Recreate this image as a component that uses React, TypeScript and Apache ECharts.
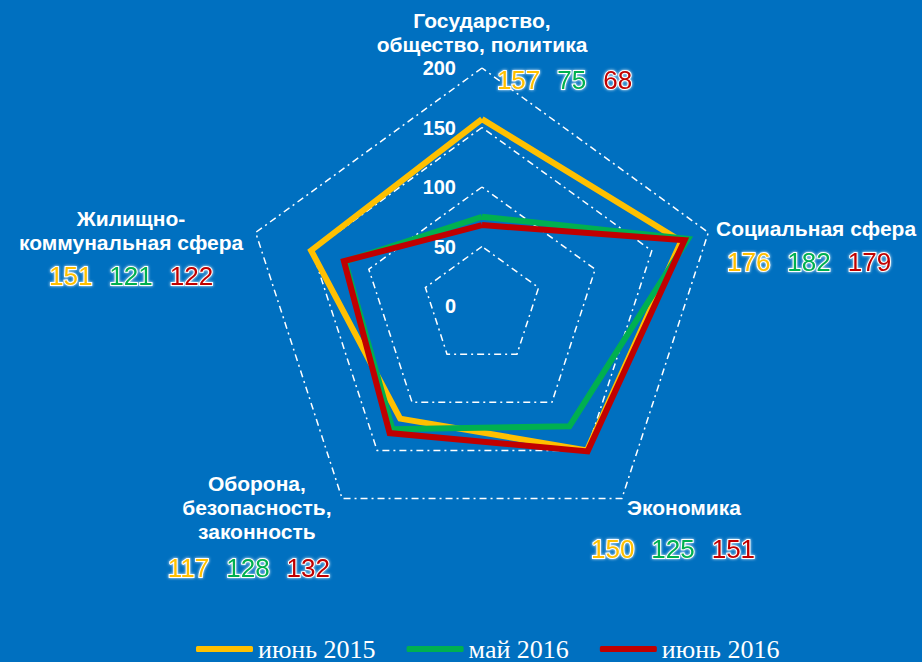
import React, { useEffect, useRef } from 'react';
import * as echarts from 'echarts';

// ---- data ----
// indicator order (counter-clockwise from top, as ECharts lays out a radar)
const indicatorNames = [
  'Государство,\nобщество, политика',
  'Жилищно-\nкоммунальная сфера',
  'Оборона,\nбезопасность,\nзаконность',
  'Экономика',
  'Социальная сфера',
];
const axisMax = 200;
const axisSplits = 4;
const seriesNames = ['июнь 2015', 'май 2016', 'июнь 2016'];
const june2015 = [157, 151, 117, 150, 176];
const may2016 = [75, 121, 128, 125, 182];
const june2016 = [68, 122, 132, 151, 179];
const seriesValues = [june2015, may2016, june2016];
const seriesColors = ['#FFC000', '#00B050', '#C00000'];

// ---- label layout per indicator (positions / styles only) ----
const nameLayouts = [
  { gap: 15, align: 'center', pad: [6, 0, 0, 0], numLH: 48, offL: 165, sep: 17, offR: 0, nameL: 0 },
  { gap: 131, align: 'center', pad: [121, 0, 0, 0], numLH: 44, offL: 0, sep: 17, offR: 0, nameL: 0 },
  { gap: 145, align: 'center', pad: [0, 0, 168, 0], numLH: 48, offL: 0, sep: 17, offR: 16, nameL: 0 },
  { gap: 87, align: 'center', pad: [0, 0, 64, 0], numLH: 58, offL: 0, sep: 17, offR: 0, nameL: 22 },
  { gap: 8, align: 'left', pad: [41, 0, 0, 0], numLH: 44, offL: 11, sep: 17, offR: 0, nameL: 0 },
];

const FONT = "'Liberation Sans', Arial, sans-serif";

const numStyle = (color: string) => ({
  color,
  fontFamily: FONT,
  fontSize: 26,
  fontWeight: 'normal',
  textBorderColor: '#ffffff',
  textBorderWidth: 2,
  textShadowColor: 'rgba(255,255,255,0.9)',
  textShadowBlur: 3,
});

export default function App() {
  const ref = useRef<HTMLDivElement>(null);

  useEffect(() => {
    if (!ref.current) return;
    const chart = echarts.init(ref.current, undefined, { renderer: 'svg' });

    const indicator = indicatorNames.map((name, i) => {
      const L = nameLayouts[i];
      const nameLines = name.split('\n').map((l) => `{n|${l}}`).join('\n');
      const text = `${nameLines}\n{y|${june2015[i]}}{g|${may2016[i]}}{r|${june2016[i]}}`;
      const ind: any = {
        name: text,
        min: 0,
        max: axisMax,
        nameGap: L.gap,
        nameMoveOverlap: false,
        nameTextStyle: {
          color: '#ffffff',
          fontFamily: FONT,
          fontSize: 21,
          fontWeight: 'bold',
          lineHeight: 24,
          align: L.align,
          verticalAlign: 'middle',
          padding: L.pad,
          rich: {
            n: {
              color: '#ffffff',
              fontFamily: FONT,
              fontSize: 21,
              fontWeight: 'bold',
              lineHeight: 24,
              padding: [0, 0, 0, L.nameL],
            },
            y: { ...numStyle(seriesColors[0]), lineHeight: L.numLH, padding: [0, 0, 0, L.offL] },
            g: { ...numStyle(seriesColors[1]), lineHeight: L.numLH, padding: [0, 0, 0, L.sep] },
            r: { ...numStyle(seriesColors[2]), lineHeight: L.numLH, padding: [0, L.offR, 0, L.sep] },
          },
        },
      };
      if (i === 0) {
        ind.axisLabel = {
          show: true,
          color: '#ffffff',
          fontFamily: FONT,
          fontSize: 20,
          fontWeight: 'bold',
          margin: 26,
        };
      }
      return ind;
    });

    const option: any = {
      animation: false,
      backgroundColor: '#0070C0',
      legend: {
        data: seriesNames,
        left: 196,
        top: 636,
        padding: 0,
        icon: 'roundRect',
        itemWidth: 57,
        itemHeight: 6,
        itemGap: 31,
        textStyle: { color: '#ffffff', fontFamily: "'Liberation Serif', 'Times New Roman', serif", fontSize: 26 },
      },
      radar: {
        center: [482, 306],
        radius: 238,
        startAngle: 90,
        shape: 'polygon',
        splitNumber: axisSplits,
        indicator,
        nameMoveOverlap: false,
        axisName: {
          color: '#ffffff',
          fontFamily: FONT,
          fontSize: 21,
          fontWeight: 'bold',
        },
        axisLine: { show: false },
        axisTick: { show: false },
        axisLabel: { show: false },
        splitArea: { show: false },
        splitLine: {
          show: true,
          lineStyle: { color: '#ffffff', width: 1.5, type: [7, 4, 2, 4] },
        },
      },
      series: [
        {
          type: 'radar',
          symbol: 'none',
          data: seriesNames.map((nm, k) => ({
            name: nm,
            value: seriesValues[k],
            itemStyle: { color: seriesColors[k] },
            lineStyle: { color: seriesColors[k], width: 6, join: 'miter' },
          })),
        },
      ],
    };

    chart.setOption(option);
    return () => chart.dispose();
  }, []);

  return (
    <div
      ref={ref}
      style={{ position: 'fixed', left: 0, top: 0, width: 922, height: 662 }}
    />
  );
}
